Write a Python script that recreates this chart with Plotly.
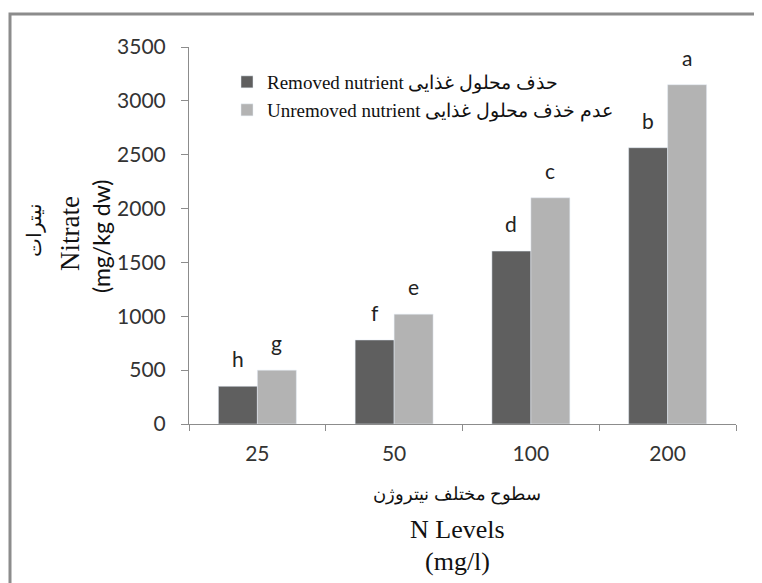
import plotly.graph_objects as go

categories = ["25", "50", "100", "200"]
removed = [350, 780, 1605, 2565]
unremoved = [500, 1020, 2100, 3150]
removed_letters = ["h", "f", "d", "b"]
unremoved_letters = ["g", "e", "c", "a"]
series_names = ["Removed nutrient حذف محلول غذایی", "Unremoved nutrient عدم خذف محلول غذایی"]
y_title = ["نيترات", "Nitrate", "(mg/kg dw)"]
x_title = ["سطوح مختلف نیتروژن", "N Levels", "(mg/l)"]

DARK = "#5f5f5f"
LIGHT = "#b3b3b3"
SERIF = "Liberation Serif, DejaVu Serif, serif"
SANS = "Lato, Open Sans, sans-serif"

# the page has an 8px body margin; work in page pixel coordinates
OFF = 8
W, H = 762 - OFF, 583 - OFF
PLOT_L, PLOT_R, PLOT_T, PLOT_B = 189, 736, 47, 424  # page px
L, R, T, B = PLOT_L - OFF, W - (PLOT_R - OFF), PLOT_T - OFF, H - (PLOT_B - OFF)
PW, PH = PLOT_R - PLOT_L, PLOT_B - PLOT_T

def px_x(px):
    return (px - PLOT_L) / PW

def px_y(py):
    return (PLOT_B - py) / PH

fig = go.Figure()
fig.add_trace(go.Bar(x=categories, y=removed, name=series_names[0], marker_color=DARK,
                     legend="legend", showlegend=True))
fig.add_trace(go.Bar(x=categories, y=unremoved, name=series_names[1], marker_color=LIGHT,
                     legend="legend2", showlegend=True))

annotations = []
for i, c in enumerate(categories):
    for vals, letters, shift in ((removed, removed_letters, -19.5), (unremoved, unremoved_letters, 19.5)):
        annotations.append(dict(x=i, y=vals[i], xref="x", yref="y", text=letters[i],
                                showarrow=False, yanchor="bottom", xshift=shift, yshift=13,
                                font=dict(family=SANS, size=21, color="#222222")))

# y-axis title (three rotated lines)
for txt, px, py, fam, size in ((y_title[0], 34, 230, SERIF, 20), (y_title[1], 70, 234, SERIF, 27),
                               (y_title[2], 101, 237, SANS, 23)):
    annotations.append(dict(x=px_x(px), y=px_y(py), xref="paper", yref="paper", text=txt,
                            showarrow=False, textangle=-90, xanchor="center", yanchor="middle",
                            font=dict(family=fam, size=size, color="#111111")))
# x-axis title
for txt, py, fam, size in ((x_title[0], 494, SERIF, 18), (x_title[1], 529, SERIF, 26), (x_title[2], 561, SERIF, 26)):
    annotations.append(dict(x=px_x(457), y=px_y(py), xref="paper", yref="paper", text=txt,
                            showarrow=False, xanchor="center", yanchor="middle",
                            font=dict(family=fam, size=size, color="#111111")))

fig.update_layout(
    width=W, height=H,
    margin=dict(l=L, r=R, t=T, b=B),
    paper_bgcolor="white", plot_bgcolor="white",
    barmode="group", bargap=0.43, bargroupgap=0,
    showlegend=True,
    annotations=annotations,
    legend=dict(x=px_x(227), y=px_y(63), xanchor="left", yanchor="top",
                font=dict(family=SERIF, size=19, color="#111111"), bgcolor="rgba(0,0,0,0)"),
    legend2=dict(x=px_x(227), y=px_y(91), xanchor="left", yanchor="top",
                 font=dict(family=SERIF, size=19, color="#111111"), bgcolor="rgba(0,0,0,0)"),
    shapes=[dict(type="rect", xref="paper", yref="paper", x0=px_x(10), x1=px_x(800),
                 y0=px_y(640), y1=px_y(14), line=dict(color="#8c8c8c", width=3),
                 fillcolor="rgba(0,0,0,0)", layer="below")],
)
fig.update_xaxes(type="category", range=[-0.5, len(categories) - 0.5], showline=True,
                 linecolor="#8c8c8c", linewidth=1, ticks="outside",
                 tickson="boundaries", ticklen=6, tickcolor="#8c8c8c",
                 tickfont=dict(family=SANS, size=21, color="#333333"), ticklabelstandoff=11,
                 showgrid=False)
fig.update_yaxes(range=[0, 3500], dtick=500, showline=True, linecolor="#8c8c8c", linewidth=1,
                 ticks="outside", ticklen=7, tickcolor="#8c8c8c", showgrid=False, zeroline=False,
                 tickfont=dict(family=SANS, size=21, color="#333333"), ticklabelstandoff=11)

fig.write_html("out.html")
